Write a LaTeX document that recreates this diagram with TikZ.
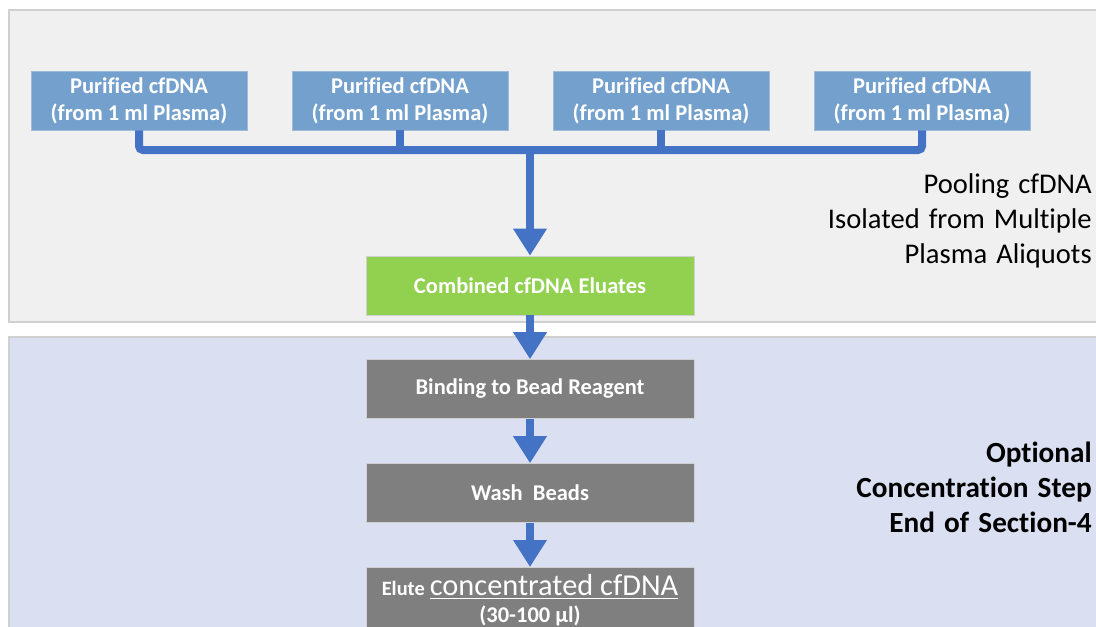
\documentclass[tikz,border=0pt]{standalone}
\usepackage{fontspec}
\setmainfont[Ligatures=NoCommon]{Carlito}
\newfontfamily\notefont[Ligatures=NoCommon, WordSpace=1.75]{Carlito}
\newfontfamily\optfont[Ligatures=NoCommon, WordSpace=1.4]{Carlito}
\usetikzlibrary{arrows.meta}

\definecolor{pipeblue}{RGB}{68,114,196}
\definecolor{samplefill}{RGB}{116,160,206}
\definecolor{sampleline}{RGB}{160,186,218}
\definecolor{poolgreen}{RGB}{146,208,80}
\definecolor{stepgray}{RGB}{127,127,127}
\definecolor{panelgray}{RGB}{240,240,240}
\definecolor{panelblue}{RGB}{218,224,242}
\definecolor{panelline}{RGB}{208,208,208}

\tikzset{
  panel/.style={draw=panelline, line width=0.04cm},
  sample/.style={draw=sampleline, fill=samplefill, text=white, align=center,
    font=\bfseries\fontsize{16}{19}\selectfont, minimum width=5.4cm, minimum height=1.475cm, inner sep=0pt},
  stepbox/.style={draw=panelline, fill=stepgray, text=white, align=center,
    font=\bfseries\fontsize{16}{19}\selectfont, minimum width=8.2cm, minimum height=1.475cm, inner sep=0pt},
  pipe/.style={draw=pipeblue, line width=0.2cm},
  flow/.style={pipe, -{Triangle[length=0.675cm, width=0.8cm]}},
  note/.style={anchor=east, align=right, font=\notefont\fontsize{20.3}{24.8}\selectfont, inner sep=0pt},
}

\begin{document}
\begin{tikzpicture}[x=0.025cm, y=-0.025cm]
\useasboundingbox (0,0) rectangle (1096,626);
\clip (0,0) rectangle (1096,626);
\fill[white] (0,0) rectangle (1096,626);

% background panels
\draw[panel, fill=panelgray] (9,10) rectangle (1120,322);
\draw[panel, fill=panelblue] (9,337) rectangle (1120,650);

% plasma aliquots
\foreach \i/\x in {1/139,2/400,3/661,4/922}
  \node[sample] (p\i) at (\x,100.5) {Purified cfDNA\\(from 1 ml Plasma)};

\node[stepbox, fill=poolgreen] (comb) at (530,285.5) {Combined cfDNA Eluates};
\node[stepbox] (bind) at (530,389) {Binding to Bead Reagent};
\node[stepbox] (wash) at (530,493) {Wash\ \ Beads};
\node[stepbox, anchor=north, minimum height=1.65cm] (elute) at (530,567)
  {{\fontsize{14.5}{17}\selectfont Elute} {\mdseries\fontsize{21.6}{22}\selectfont\underline{concentrated cfDNA}}\\(30-100 µl)};

% pooling
\coordinate (bus) at (530,150);
\draw[pipe, rounded corners=0.1cm] (p1.south) |- (bus) -| (p4.south);
\draw[pipe] (p2.south) -- (p2.south |- bus);
\draw[pipe] (p3.south) -- (p3.south |- bus);
\draw[flow] (bus) -- (comb.north);

% concentration
\draw[flow] (comb) -- (bind);
\draw[flow] (bind) -- (wash);
\draw[flow] (wash) -- (elute);

\node[note] (pool) at (1092,221) {Pooling cfDNA\\Isolated from Multiple\\Plasma Aliquots};
\node[note, font=\optfont\bfseries\fontsize{20.8}{24.8}\selectfont] (opt) at (1092,487) {Optional\\Concentration Step\\End of Section-4};
\end{tikzpicture}
\end{document}
